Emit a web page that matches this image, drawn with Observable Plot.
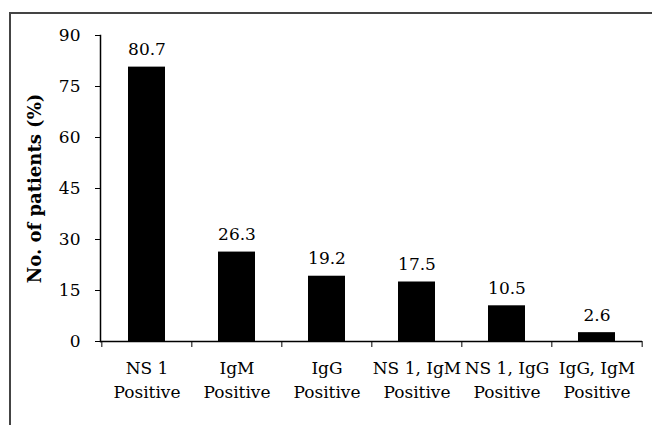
<!DOCTYPE html>
<html>
<head>
<meta charset="utf-8">
<script src="https://cdn.jsdelivr.net/npm/d3@7"></script>
<script src="https://cdn.jsdelivr.net/npm/@observablehq/plot@0.6"></script>
<style>
  html, body { margin: 0; padding: 0; background: #fff; }
  #wrap { position: relative; width: 652px; height: 425px; overflow: hidden; }
  #border { position: absolute; left: 9px; top: 12px; width: 700px; height: 500px;
            border-left: 2px solid #444; border-top: 2px solid #444; box-sizing: border-box; }
  #chart { position: absolute; left: 0; top: 0; }
</style>
</head>
<body>
<div id="wrap"><div id="border"></div><div id="chart"></div></div>
<script>
const categories = ["NS 1\nPositive", "IgM\nPositive", "IgG\nPositive", "NS 1, IgM\nPositive", "NS 1, IgG\nPositive", "IgG, IgM\nPositive"];
const values = [80.7, 26.3, 19.2, 17.5, 10.5, 2.6];
const yTicks = [0, 15, 30, 45, 60, 75, 90];
const yTitle = "No. of patients (%)";

const data = categories.map((c, i) => ({category: c, value: values[i]}));

const W = 652, H = 425;
const mL = 100, mR = 10, mT = 35, mB = 84;
const step = (W - mL - mR) / categories.length;
const font = "DejaVu Serif, serif";

const chart = Plot.plot({
  width: W,
  height: H,
  marginLeft: mL,
  marginRight: mR,
  marginTop: mT,
  marginBottom: mB,
  style: {fontFamily: font, fontSize: "17px", color: "#000", background: "transparent"},
  x: {domain: categories, paddingInner: 0.59, paddingOuter: 0.295},
  y: {domain: [0, 90]},
  marks: [
    Plot.barY(data, {x: "category", y: "value", fill: "#000"}),
    Plot.text(data, {x: "category", y: "value", text: d => d.value.toFixed(1), dy: -12, lineAnchor: "bottom", fontSize: 17, fill: "#000"}),
    Plot.ruleY([0], {stroke: "#000", strokeWidth: 1.5}),
    Plot.frame({anchor: "left", stroke: "#000", strokeWidth: 1.5}),
    Plot.axisY(yTicks, {tickSize: 5, tickPadding: 15, fontSize: 17, stroke: "#000", label: null}),
    Plot.axisX({text: null, tickSize: 6, dx: -step / 2, stroke: "#000", label: null}),
    Plot.axisX([categories[categories.length - 1]], {text: null, tickSize: 6, dx: step / 2, stroke: "#000", label: null}),
    Plot.axisX({tickSize: 0, tickPadding: 16, fontSize: 17, lineHeight: 1.4, label: null, lineAnchor: "top"}),
    Plot.text([yTitle], {frameAnchor: "left", dx: -65, rotate: -90, textAnchor: "middle", fontWeight: "bold", fontSize: 18, fill: "#000"})
  ]
});
document.getElementById("chart").appendChild(chart);
</script>
</body>
</html>
